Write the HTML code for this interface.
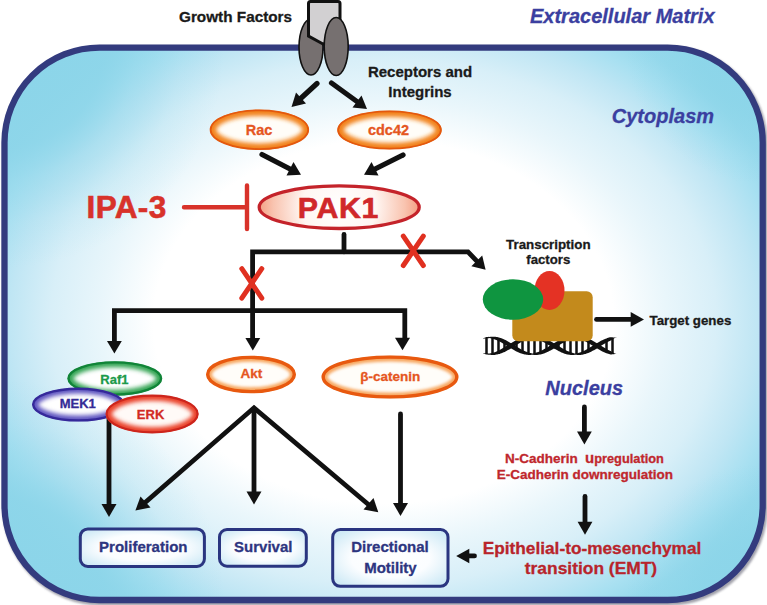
<!DOCTYPE html>
<html>
<head>
<meta charset="utf-8">
<title>PAK1 signalling</title>
<style>
html,body{margin:0;padding:0;background:#fff;}
body{width:767px;height:605px;overflow:hidden;}
svg{display:block;}
text{font-family:"Liberation Sans",sans-serif;font-weight:bold;}
.k{fill:#1a1a1a;stroke:#1a1a1a;stroke-width:0.3px;}
.nv{fill:#2d3580;stroke:#2d3580;stroke-width:0.3px;}
.it{fill:#3b3fa0;stroke:#3b3fa0;stroke-width:0.3px;font-style:italic;font-size:20px;}
.or{fill:#e5561f;stroke:#e5561f;stroke-width:0.3px;font-size:14.5px;}
.rd{fill:#c0272d;stroke:#c0272d;stroke-width:0.3px;}
.ln{stroke:#111;stroke-width:4.8;fill:none;stroke-linejoin:miter;}
.ar{fill:#111;}
.rx{stroke:#d8322a;stroke-width:4.4;fill:none;stroke-linecap:round;}
.x{stroke:#e03020;stroke-width:5;}
.bx{stroke:#2a3580;stroke-width:3;fill:url(#gbox);}
</style>
</head>
<body>
<svg width="767" height="605" viewBox="0 0 767 605">
<defs>
<radialGradient id="gcell" gradientUnits="userSpaceOnUse" cx="383.6" cy="322.0" r="530" gradientTransform="translate(383.6 322.0) scale(1 0.79) translate(-383.6 -322.0)">
<stop offset="0" stop-color="#ffffff"/>
<stop offset="0.434" stop-color="#ffffff"/>
<stop offset="0.534" stop-color="#e9f6fb"/>
<stop offset="0.628" stop-color="#d8eff8"/>
<stop offset="0.704" stop-color="#c0e6f4"/>
<stop offset="0.764" stop-color="#a8e0f1"/>
<stop offset="0.815" stop-color="#96d9ec"/>
<stop offset="0.906" stop-color="#8bd5e9"/>
<stop offset="1.000" stop-color="#88d3e8"/>
</radialGradient>
<radialGradient id="gor" cx="0.5" cy="0.5" r="0.5">
<stop offset="0" stop-color="#ffffff"/>
<stop offset="0.48" stop-color="#fffdf8"/>
<stop offset="0.68" stop-color="#fde3c0"/>
<stop offset="0.86" stop-color="#f5993a"/>
<stop offset="1" stop-color="#ee7417"/>
</radialGradient>
<radialGradient id="gor2" cx="0.5" cy="0.5" r="0.5">
<stop offset="0" stop-color="#ffffff"/>
<stop offset="0.6" stop-color="#fffaf4"/>
<stop offset="0.85" stop-color="#fddcb8"/>
<stop offset="1" stop-color="#f8b47a"/>
</radialGradient>
<radialGradient id="gpak" gradientUnits="userSpaceOnUse" cx="339" cy="207" r="82">
<stop offset="0" stop-color="#ffffff"/>
<stop offset="0.45" stop-color="#fff6f2"/>
<stop offset="0.8" stop-color="#f9c4b0"/>
<stop offset="1" stop-color="#f39a7e"/>
</radialGradient>
<radialGradient id="ggr" cx="0.5" cy="0.5" r="0.5">
<stop offset="0" stop-color="#ffffff"/>
<stop offset="0.5" stop-color="#fbfefb"/>
<stop offset="0.78" stop-color="#cfe9d2"/>
<stop offset="1" stop-color="#7cc68c"/>
</radialGradient>
<radialGradient id="gbl" cx="0.5" cy="0.5" r="0.5">
<stop offset="0" stop-color="#ffffff"/>
<stop offset="0.5" stop-color="#fbfbfe"/>
<stop offset="0.78" stop-color="#d2cdee"/>
<stop offset="1" stop-color="#968cd2"/>
</radialGradient>
<radialGradient id="grd" cx="0.5" cy="0.5" r="0.5">
<stop offset="0" stop-color="#ffffff"/>
<stop offset="0.5" stop-color="#fffaf8"/>
<stop offset="0.78" stop-color="#fbcfc4"/>
<stop offset="1" stop-color="#f08c78"/>
</radialGradient>
<radialGradient id="gbox" cx="0.5" cy="0.5" r="0.62">
<stop offset="0" stop-color="#ffffff"/>
<stop offset="0.55" stop-color="#fbfdff"/>
<stop offset="1" stop-color="#cfeaf6"/>
</radialGradient>
<filter id="sh" x="-5%" y="-5%" width="110%" height="110%">
<feGaussianBlur stdDeviation="1.2"/>
</filter>
<filter id="b2" x="-20%" y="-40%" width="140%" height="180%"><feGaussianBlur stdDeviation="1.6"/></filter>
<filter id="b3" x="-20%" y="-40%" width="140%" height="180%"><feGaussianBlur stdDeviation="2.2"/></filter>
<clipPath id="crac"><ellipse cx="259.4" cy="129.7" rx="49.400000000000006" ry="20.0"/></clipPath>
<clipPath id="ccdc"><ellipse cx="389.5" cy="130" rx="52.0" ry="19.3"/></clipPath>
<clipPath id="craf"><ellipse cx="114.8" cy="378.5" rx="47.2" ry="17.0"/></clipPath>
<clipPath id="cmek"><ellipse cx="78.4" cy="404.6" rx="46.1" ry="16.7"/></clipPath>
<clipPath id="cerk"><ellipse cx="152.1" cy="414" rx="46.300000000000004" ry="19.099999999999998"/></clipPath>
<clipPath id="cakt"><ellipse cx="251" cy="374.500" rx="44.700" ry="18.500"/></clipPath>
<clipPath id="cbcat"><ellipse cx="390" cy="377" rx="68.2" ry="21.3"/></clipPath>
<radialGradient id="gcorner" gradientUnits="userSpaceOnUse" cx="0" cy="0" r="220">
<stop offset="0" stop-color="#8cd5e9" stop-opacity="1"/>
<stop offset="0.45" stop-color="#8cd5e9" stop-opacity="0.85"/>
<stop offset="0.6" stop-color="#8cd5e9" stop-opacity="0.45"/>
<stop offset="0.8" stop-color="#8cd5e9" stop-opacity="0.15"/>
<stop offset="1" stop-color="#8cd5e9" stop-opacity="0"/>
</radialGradient>
<clipPath id="ccell"><rect x="4.500" y="47.600" width="758.200" height="552.400" rx="95" ry="95"/></clipPath>
</defs>

<!-- cell shadow + body -->
<rect x="4.500" y="47.600" width="758.200" height="552.400" rx="95" ry="95" fill="none" stroke="#8a8a96" stroke-width="7" transform="translate(1.5 2)" filter="url(#sh)" opacity="0.8"/>
<rect x="4.500" y="47.600" width="758.200" height="552.400" rx="95" ry="95" fill="url(#gcell)"/>
<g clip-path="url(#ccell)"><circle cx="0" cy="0" r="220" fill="url(#gcorner)" transform="translate(4.500 47.600)"/><circle cx="0" cy="0" r="220" fill="url(#gcorner)" transform="translate(762.700 47.600) scale(0.62)"/><circle cx="0" cy="0" r="220" fill="url(#gcorner)" transform="translate(4.500 600)"/><circle cx="0" cy="0" r="220" fill="url(#gcorner)" transform="translate(762.700 600) scale(0.62)"/></g>
<rect x="4.500" y="47.600" width="758.200" height="552.400" rx="95" ry="95" fill="none" stroke="#333b7e" stroke-width="6.300"/>

<!-- receptor -->
<ellipse cx="311" cy="47" rx="12" ry="28" fill="#767070" stroke="#111" stroke-width="1.6"/>
<path d="M310.500 1.500 H338 Q340 1.500 340 3.500 V40 L323 44 L308.500 36 V3.500 Q308.500 1.500 310.500 1.500 Z" fill="#d2d0d2" stroke="#111" stroke-width="3" stroke-linejoin="miter"/>
<ellipse cx="336.2" cy="46.5" rx="12" ry="29" fill="#767070" stroke="#111" stroke-width="1.6"/>

<!-- labels -->
<text class="k" x="179" y="22.400" font-size="15.300">Growth Factors</text>
<text class="k" x="420" y="77" font-size="15" text-anchor="middle">Receptors and</text>
<text class="k" x="420" y="97" font-size="15" text-anchor="middle">Integrins</text>
<text class="it" x="530" y="22.5">Extracellular Matrix</text>
<text class="it" x="611.800" y="123">Cytoplasm</text>
<text class="it" x="545.300" y="395">Nucleus</text>

<!-- arrows from receptor -->
<g id="arrows">
<line class="ln" x1="317" y1="83.5" x2="299" y2="100" style="stroke-linecap:round;stroke-width:5.2px"/>
<polygon class="ar" points="291.5,107 296,92.5 306,103.5"/>
<line class="ln" x1="331.5" y1="83" x2="359" y2="103" style="stroke-linecap:round;stroke-width:5.2px"/>
<polygon class="ar" points="367,109 352.500,107.5 361.5,95.5"/>
<line class="ln" x1="262" y1="154.500" x2="292" y2="170" style="stroke-linecap:round;stroke-width:5.2px"/>
<polygon class="ar" points="301,174.700 286.500,175.500 293.500,162"/>
<line class="ln" x1="403" y1="155" x2="373" y2="170" style="stroke-linecap:round;stroke-width:5.2px"/>
<polygon class="ar" points="364,174.700 371.500,162 378.500,175.500"/>
</g>

<!-- Rac / cdc42 -->
<g clip-path="url(#crac)"><ellipse cx="259.4" cy="129.7" rx="49.7" ry="20.3" fill="#fffdf8"/><ellipse cx="259.4" cy="129.7" rx="49.7" ry="20.3" fill="none" stroke="#f2831f" stroke-width="13" filter="url(#b3)"/></g><ellipse cx="259.4" cy="129.7" rx="48.80" ry="19.40" fill="none" stroke="#e3580e" stroke-width="1.8"/>
<text class="or" x="259" y="134.700" text-anchor="middle">Rac</text>
<g clip-path="url(#ccdc)"><ellipse cx="389.5" cy="130" rx="52.3" ry="19.6" fill="#fffdf8"/><ellipse cx="389.5" cy="130" rx="52.3" ry="19.6" fill="none" stroke="#f2831f" stroke-width="13" filter="url(#b3)"/></g><ellipse cx="389.5" cy="130" rx="51.40" ry="18.70" fill="none" stroke="#e3580e" stroke-width="1.8"/>
<text class="or" x="388.500" y="135" text-anchor="middle">cdc42</text>

<!-- PAK1 -->
<ellipse cx="339.200" cy="207.200" rx="80" ry="21.300" fill="url(#gpak)" stroke="#c4232a" stroke-width="3.300"/>
<text x="297.800" y="217.700" font-size="30.300" letter-spacing="0.7" fill="#d0282a" stroke="#d0282a" stroke-width="0.6">PAK1</text>

<!-- IPA-3 inhibition -->
<text x="86.500" y="217.800" font-size="31.500" letter-spacing="0.4" fill="#d8322a" stroke="#d8322a" stroke-width="0.6">IPA-3</text>
<path class="rx" d="M184 207.300 H247 M247 185.500 V229"/>

<!-- main tree -->
<path class="ln" d="M344 234.500 V251.900" stroke-linecap="round"/>
<path class="ln" d="M478.500 262.800 L468 251.900 H252.600 V341"/>
<polygon class="ar" points="485.600,269.700 471.400,266.200 482.200,255.400"/>
<path class="ln" d="M114.400 341.500 V310.600 H404.800 V341"/>
<polygon class="ar" points="114.400,353.600 107,341 121.800,341"/>
<polygon class="ar" points="252.800,350.600 245.400,338 260.200,338"/>
<polygon class="ar" points="402.500,350.300 395,337.800 410,337.800"/>
<path class="rx x" d="M241.800 268.700 L261.800 298.100 M261.800 268.700 L241.800 298.100"/>
<path class="rx x" d="M403.300 236.100 L423.300 265.500 M423.300 236.100 L403.300 265.500"/>

<!-- Raf1 / MEK1 / ERK -->
<path class="ln" d="M109 418 V504"/>
<polygon class="ar" points="109,517 101.500,504 116.500,504"/>
<g clip-path="url(#craf)"><ellipse cx="114.8" cy="378.5" rx="47.5" ry="17.3" fill="#ffffff"/><ellipse cx="114.8" cy="378.5" rx="47.5" ry="17.3" fill="none" stroke="#35a555" stroke-width="12" filter="url(#b3)"/></g><ellipse cx="114.8" cy="378.5" rx="46.30" ry="16.10" fill="none" stroke="#108438" stroke-width="2.4"/>
<text x="114.400" y="384" text-anchor="middle" font-size="13" fill="#1c9a4a" stroke="#1c9a4a" stroke-width="0.3">Raf1</text>
<g clip-path="url(#cmek)"><ellipse cx="78.4" cy="404.6" rx="46.4" ry="17.0" fill="#ffffff"/><ellipse cx="78.4" cy="404.6" rx="46.4" ry="17.0" fill="none" stroke="#5f54c0" stroke-width="12" filter="url(#b3)"/></g><ellipse cx="78.4" cy="404.6" rx="45.20" ry="15.80" fill="none" stroke="#35299a" stroke-width="2.4"/>
<text x="77.800" y="408.300" text-anchor="middle" font-size="13" fill="#352b96" stroke="#352b96" stroke-width="0.3">MEK1</text>
<g clip-path="url(#cerk)"><ellipse cx="152.1" cy="414" rx="46.6" ry="19.4" fill="#fffaf7"/><ellipse cx="152.1" cy="414" rx="46.6" ry="19.4" fill="none" stroke="#ea432c" stroke-width="12.500" filter="url(#b3)"/></g><ellipse cx="152.1" cy="414" rx="45.50" ry="18.30" fill="none" stroke="#cc251c" stroke-width="2.2"/>
<text x="150.600" y="419.200" text-anchor="middle" font-size="13" fill="#d22a24" stroke="#d22a24" stroke-width="0.3">ERK</text>

<!-- Akt / b-catenin -->
<g clip-path="url(#cakt)"><ellipse cx="251" cy="374.500" rx="45" ry="18.800" fill="#fffdf9"/><ellipse cx="251" cy="374.500" rx="45" ry="18.800" fill="none" stroke="#f7a862" stroke-width="12" filter="url(#b2)"/></g><ellipse cx="251" cy="374.500" rx="43.300" ry="17.100" fill="none" stroke="#e8590f" stroke-width="3.400"/>
<text class="or" x="251.500" y="378.300" text-anchor="middle" style="font-size:13.5px">Akt</text>
<g clip-path="url(#cbcat)"><ellipse cx="390" cy="377" rx="68.500" ry="21.600" fill="#fffdf9"/><ellipse cx="390" cy="377" rx="68.500" ry="21.600" fill="none" stroke="#f7a862" stroke-width="12" filter="url(#b2)"/></g><ellipse cx="390" cy="377" rx="66.800" ry="19.900" fill="none" stroke="#e8590f" stroke-width="3.400"/>
<text class="or" x="390.300" y="380.800" text-anchor="middle" style="font-size:13.5px">β-catenin</text>

<!-- Akt fan -->
<path class="ln" d="M144 503.500 L254 407.800 L369 505" stroke-linejoin="miter"/>
<polygon class="ar" points="135.400,510.500 140.500,496.500 150.500,507.500"/>
<polygon class="ar" points="378.300,512.300 363.500,509.500 373.500,498"/>
<path class="ln" d="M254 410 V492"/>
<polygon class="ar" points="254,504.500 246.500,491.500 261.500,491.500"/>
<path class="ln" d="M400.500 414 V504" stroke-linecap="round"/>
<polygon class="ar" points="400.500,516 393,503 408,503"/>

<!-- transcription complex -->
<text class="k" x="548.300" y="248.600" font-size="13.350" text-anchor="middle">Transcription</text>
<text class="k" x="548.300" y="264" font-size="13.200" text-anchor="middle">factors</text>
<g id="dna">
<path d="M486.5 337.7 V353.9 M492.5 337.7 V353.9 M498.5 339.2 V352.4 M504.5 342.0 V349.6 M516.5 342.6 V349.0 M522.5 339.6 V352.0 M528.5 337.9 V353.7 M534.5 337.6 V354.0 M540.5 338.9 V352.7 M546.5 341.5 V350.1 M558.5 343.1 V348.5 M564.5 340.0 V351.6 M570.5 338.0 V353.6 M576.5 337.5 V354.1 M582.5 338.6 V353.0 M588.5 341.0 V350.6 M606.5 340.5 V351.1 M612.5 338.3 V353.3" stroke="#111" stroke-width="2.500" fill="none"/>
<path d="M483.0 353.0 L483.8 353.2 L484.7 353.2 L485.5 353.3 L486.3 353.3 L487.2 353.3 L488.0 353.4 L488.8 353.4 L489.7 353.5 L490.5 353.3 L491.3 353.2 L492.2 353.0 L493.0 352.7 L493.8 352.5 L494.7 352.2 L495.5 351.9 L496.4 351.5 L497.2 351.2 L498.0 350.8 L498.9 350.4 L499.7 350.0 L500.5 349.5 L501.4 349.1 L502.2 348.6 L503.0 348.1 L503.9 347.6 L504.7 347.1 L505.5 346.6 L506.4 346.1 L507.2 345.6 L508.0 345.0 L508.9 344.5 L509.7 344.0 L510.5 343.5 L511.4 343.0 L512.2 342.5 L513.0 342.0 L513.9 341.5 L514.7 341.1 L515.5 340.6 L516.4 340.2 L517.2 339.8 L518.0 339.4 L518.9 339.0 L519.7 338.7 L520.5 338.3 L521.4 338.0 L522.2 337.8 L523.0 337.5 L523.9 337.3 L524.7 337.1 L525.6 337.0 L526.4 336.9 L527.2 336.8 L528.1 336.7 L528.9 336.7 L529.7 336.7 L530.6 336.7 L531.4 336.8 L532.2 336.9 L533.1 336.8 L533.9 336.7 L534.7 336.7 L535.6 336.7 L536.4 336.7 L537.2 336.7 L538.1 336.8 L538.9 336.9 L539.7 337.0 L540.6 337.2 L541.4 337.4 L542.2 337.6 L543.1 337.9 L543.9 338.1 L544.7 338.4 L545.6 338.8 L546.4 339.1 L547.2 339.5 L548.1 339.9 L548.9 340.3 L549.8 340.8 L550.6 341.2 L551.4 341.7 L552.3 342.2 L553.1 342.7 L553.9 343.2 L554.8 343.7 L555.6 344.2 L556.4 344.7 L557.3 345.2 L558.1 345.7 L558.9 346.3 L559.8 346.8 L560.6 347.3 L561.4 347.8 L562.3 348.3 L563.1 348.7 L563.9 349.2 L564.8 349.7 L565.6 350.1 L566.4 350.5 L567.3 350.9 L568.1 351.3 L568.9 351.6 L569.8 352.0 L570.6 352.3 L571.4 352.6 L572.3 352.8 L573.1 353.0 L573.9 353.2 L574.8 353.4 L575.6 353.5 L576.5 353.3 L577.3 353.2 L578.1 353.0 L579.0 352.7 L579.8 352.5 L580.6 352.2 L581.5 351.9 L582.3 351.5 L583.1 351.2 L584.0 350.8 L584.8 350.4 L585.6 350.0 L586.5 349.5 L587.3 349.1 L588.1 348.6 L589.0 348.1 L589.8 347.6 L590.6 347.1 L591.5 346.6 L592.3 346.1 L593.1 345.6 L594.0 345.1 L594.8 344.6 L595.6 344.0 L596.5 343.5 L597.3 343.0 L598.1 342.5 L599.0 342.0 L599.8 341.5 L600.6 341.1 L601.5 340.6 L602.3 340.2 L603.1 339.8 L604.0 339.4 L604.8 339.0 L605.7 338.7 L606.5 338.4 L607.3 338.1 L608.2 337.8 L609.0 337.5 L609.8 337.3 L610.7 337.2 L611.5 337.2 L612.3 337.3 L613.2 337.4 L614.0 337.4 L614.8 337.5 L615.7 337.5 L616.5 337.5 L616.5 337.7 L615.7 337.8 L614.8 338.1 L614.0 338.5 L613.2 338.9 L612.3 339.4 L611.5 339.9 L610.7 340.5 L609.8 340.9 L609.0 341.3 L608.2 341.7 L607.3 342.2 L606.5 342.6 L605.7 343.1 L604.8 343.6 L604.0 344.1 L603.1 344.6 L602.3 345.1 L601.5 345.6 L600.6 346.1 L599.8 346.7 L599.0 347.2 L598.1 347.7 L597.3 348.2 L596.5 348.7 L595.6 349.2 L594.8 349.7 L594.0 350.2 L593.1 350.6 L592.3 351.1 L591.5 351.5 L590.6 351.9 L589.8 352.3 L589.0 352.7 L588.1 353.0 L587.3 353.3 L586.5 353.6 L585.6 353.9 L584.8 354.1 L584.0 354.3 L583.1 354.5 L582.3 354.7 L581.5 354.8 L580.6 354.9 L579.8 354.9 L579.0 354.9 L578.1 354.9 L577.3 354.9 L576.5 354.8 L575.6 354.7 L574.8 354.8 L573.9 354.9 L573.1 354.9 L572.3 354.9 L571.4 354.9 L570.6 354.9 L569.8 354.8 L568.9 354.7 L568.1 354.5 L567.3 354.4 L566.4 354.2 L565.6 353.9 L564.8 353.7 L563.9 353.4 L563.1 353.1 L562.3 352.8 L561.4 352.4 L560.6 352.0 L559.8 351.6 L558.9 351.2 L558.1 350.8 L557.3 350.3 L556.4 349.8 L555.6 349.3 L554.8 348.9 L553.9 348.4 L553.1 347.8 L552.3 347.3 L551.4 346.8 L550.6 346.3 L549.8 345.8 L548.9 345.3 L548.1 344.7 L547.2 344.2 L546.4 343.7 L545.6 343.2 L544.7 342.8 L543.9 342.3 L543.1 341.9 L542.2 341.4 L541.4 341.0 L540.6 340.6 L539.7 340.2 L538.9 339.9 L538.1 339.6 L537.2 339.3 L536.4 339.0 L535.6 338.8 L534.7 338.5 L533.9 338.3 L533.1 338.2 L532.2 338.1 L531.4 338.3 L530.6 338.5 L529.7 338.7 L528.9 338.9 L528.1 339.2 L527.2 339.5 L526.4 339.8 L525.6 340.1 L524.7 340.5 L523.9 340.9 L523.0 341.3 L522.2 341.7 L521.4 342.1 L520.5 342.6 L519.7 343.1 L518.9 343.6 L518.0 344.1 L517.2 344.6 L516.4 345.1 L515.5 345.6 L514.7 346.1 L513.9 346.6 L513.0 347.1 L512.2 347.7 L511.4 348.2 L510.5 348.7 L509.7 349.2 L508.9 349.7 L508.0 350.1 L507.2 350.6 L506.4 351.0 L505.5 351.5 L504.7 351.9 L503.9 352.3 L503.0 352.6 L502.2 353.0 L501.4 353.3 L500.5 353.6 L499.7 353.9 L498.9 354.1 L498.0 354.3 L497.2 354.5 L496.4 354.6 L495.5 354.8 L494.7 354.9 L493.8 354.9 L493.0 354.9 L492.2 354.9 L491.3 354.9 L490.5 354.8 L489.7 354.7 L488.8 354.8 L488.0 354.7 L487.2 354.6 L486.3 354.5 L485.5 354.2 L484.7 353.9 L483.8 353.6 L483.0 353.4Z" fill="#111"/>
<path d="M483.0 338.2 L483.8 338.0 L484.7 337.7 L485.5 337.4 L486.3 337.1 L487.2 337.0 L488.0 336.9 L488.8 336.8 L489.7 336.9 L490.5 336.8 L491.3 336.7 L492.2 336.7 L493.0 336.7 L493.8 336.7 L494.7 336.7 L495.5 336.8 L496.4 337.0 L497.2 337.1 L498.0 337.3 L498.9 337.5 L499.7 337.7 L500.5 338.0 L501.4 338.3 L502.2 338.6 L503.0 339.0 L503.9 339.3 L504.7 339.7 L505.5 340.1 L506.4 340.6 L507.2 341.0 L508.0 341.5 L508.9 341.9 L509.7 342.4 L510.5 342.9 L511.4 343.4 L512.2 343.9 L513.0 344.5 L513.9 345.0 L514.7 345.5 L515.5 346.0 L516.4 346.5 L517.2 347.0 L518.0 347.5 L518.9 348.0 L519.7 348.5 L520.5 349.0 L521.4 349.5 L522.2 349.9 L523.0 350.3 L523.9 350.7 L524.7 351.1 L525.6 351.5 L526.4 351.8 L527.2 352.1 L528.1 352.4 L528.9 352.7 L529.7 352.9 L530.6 353.1 L531.4 353.3 L532.2 353.5 L533.1 353.4 L533.9 353.3 L534.7 353.1 L535.6 352.8 L536.4 352.6 L537.2 352.3 L538.1 352.0 L538.9 351.7 L539.7 351.4 L540.6 351.0 L541.4 350.6 L542.2 350.2 L543.1 349.7 L543.9 349.3 L544.7 348.8 L545.6 348.4 L546.4 347.9 L547.2 347.4 L548.1 346.9 L548.9 346.3 L549.8 345.8 L550.6 345.3 L551.4 344.8 L552.3 344.3 L553.1 343.8 L553.9 343.2 L554.8 342.7 L555.6 342.3 L556.4 341.8 L557.3 341.3 L558.1 340.8 L558.9 340.4 L559.8 340.0 L560.6 339.6 L561.4 339.2 L562.3 338.8 L563.1 338.5 L563.9 338.2 L564.8 337.9 L565.6 337.7 L566.4 337.4 L567.3 337.2 L568.1 337.1 L568.9 336.9 L569.8 336.8 L570.6 336.7 L571.4 336.7 L572.3 336.7 L573.1 336.7 L573.9 336.7 L574.8 336.8 L575.6 336.9 L576.5 336.8 L577.3 336.7 L578.1 336.7 L579.0 336.7 L579.8 336.7 L580.6 336.7 L581.5 336.8 L582.3 336.9 L583.1 337.1 L584.0 337.3 L584.8 337.5 L585.6 337.7 L586.5 338.0 L587.3 338.3 L588.1 338.6 L589.0 338.9 L589.8 339.3 L590.6 339.7 L591.5 340.1 L592.3 340.5 L593.1 341.0 L594.0 341.4 L594.8 341.9 L595.6 342.4 L596.5 342.9 L597.3 343.4 L598.1 343.9 L599.0 344.4 L599.8 344.9 L600.6 345.5 L601.5 346.0 L602.3 346.5 L603.1 347.0 L604.0 347.5 L604.8 348.0 L605.7 348.5 L606.5 349.0 L607.3 349.4 L608.2 349.9 L609.0 350.3 L609.8 350.7 L610.7 351.1 L611.5 351.7 L612.3 352.2 L613.2 352.7 L614.0 353.1 L614.8 353.5 L615.7 353.8 L616.5 353.9 L616.5 354.1 L615.7 354.1 L614.8 354.1 L614.0 354.2 L613.2 354.2 L612.3 354.3 L611.5 354.4 L610.7 354.4 L609.8 354.3 L609.0 354.1 L608.2 353.8 L607.3 353.5 L606.5 353.2 L605.7 352.9 L604.8 352.6 L604.0 352.2 L603.1 351.8 L602.3 351.4 L601.5 351.0 L600.6 350.5 L599.8 350.1 L599.0 349.6 L598.1 349.1 L597.3 348.6 L596.5 348.1 L595.6 347.6 L594.8 347.0 L594.0 346.5 L593.1 346.0 L592.3 345.5 L591.5 345.0 L590.6 344.5 L589.8 344.0 L589.0 343.5 L588.1 343.0 L587.3 342.5 L586.5 342.1 L585.6 341.6 L584.8 341.2 L584.0 340.8 L583.1 340.4 L582.3 340.1 L581.5 339.7 L580.6 339.4 L579.8 339.1 L579.0 338.9 L578.1 338.6 L577.3 338.4 L576.5 338.3 L575.6 338.1 L574.8 338.2 L573.9 338.4 L573.1 338.6 L572.3 338.8 L571.4 339.0 L570.6 339.3 L569.8 339.6 L568.9 340.0 L568.1 340.3 L567.3 340.7 L566.4 341.1 L565.6 341.5 L564.8 341.9 L563.9 342.4 L563.1 342.9 L562.3 343.3 L561.4 343.8 L560.6 344.3 L559.8 344.8 L558.9 345.3 L558.1 345.9 L557.3 346.4 L556.4 346.9 L555.6 347.4 L554.8 347.9 L553.9 348.4 L553.1 348.9 L552.3 349.4 L551.4 349.9 L550.6 350.4 L549.8 350.8 L548.9 351.3 L548.1 351.7 L547.2 352.1 L546.4 352.5 L545.6 352.8 L544.7 353.2 L543.9 353.5 L543.1 353.7 L542.2 354.0 L541.4 354.2 L540.6 354.4 L539.7 354.6 L538.9 354.7 L538.1 354.8 L537.2 354.9 L536.4 354.9 L535.6 354.9 L534.7 354.9 L533.9 354.9 L533.1 354.8 L532.2 354.7 L531.4 354.8 L530.6 354.9 L529.7 354.9 L528.9 354.9 L528.1 354.9 L527.2 354.8 L526.4 354.7 L525.6 354.6 L524.7 354.5 L523.9 354.3 L523.0 354.1 L522.2 353.8 L521.4 353.6 L520.5 353.3 L519.7 352.9 L518.9 352.6 L518.0 352.2 L517.2 351.8 L516.4 351.4 L515.5 351.0 L514.7 350.5 L513.9 350.1 L513.0 349.6 L512.2 349.1 L511.4 348.6 L510.5 348.1 L509.7 347.6 L508.9 347.1 L508.0 346.6 L507.2 346.0 L506.4 345.5 L505.5 345.0 L504.7 344.5 L503.9 344.0 L503.0 343.5 L502.2 343.0 L501.4 342.5 L500.5 342.1 L499.7 341.6 L498.9 341.2 L498.0 340.8 L497.2 340.4 L496.4 340.1 L495.5 339.7 L494.7 339.4 L493.8 339.1 L493.0 338.9 L492.2 338.6 L491.3 338.4 L490.5 338.3 L489.7 338.1 L488.8 338.2 L488.0 338.2 L487.2 338.3 L486.3 338.3 L485.5 338.3 L484.7 338.4 L483.8 338.4 L483.0 338.6Z" fill="#111"/>
</g>
<rect x="512.300" y="291.300" width="80.400" height="50" rx="6" fill="#c38a1c"/>
<ellipse cx="549.500" cy="290.500" rx="15" ry="19.500" fill="#e43224"/>
<ellipse cx="513" cy="299.500" rx="30.200" ry="20.200" fill="#0f9540"/>
<path class="ln" d="M596.500 319.400 H632" stroke-linecap="round"/>
<polygon class="ar" points="644,319.400 630.700,312 630.700,326.800"/>
<text class="k" x="649.500" y="324.500" font-size="13.300">Target genes</text>

<!-- nucleus downstream -->
<path class="ln" d="M584.400 407 V432" stroke-linecap="round"/>
<polygon class="ar" points="584.400,444.500 577,431.500 591.800,431.500"/>
<text class="rd" x="505" y="463.300" font-size="13.500">N-Cadherin <tspan x="585" font-size="15">u</tspan><tspan font-size="12.800">pregulation</tspan></text>
<text class="rd" x="584.800" y="479" font-size="13.500" text-anchor="middle">E-Cadherin downregulation</text>
<path class="ln" d="M585 496.500 V522" stroke-linecap="round"/>
<polygon class="ar" points="585,534.800 577.600,521.800 592.400,521.800"/>
<text class="rd" x="592" y="553.800" font-size="17.250" text-anchor="middle" style="fill:#b8242b;stroke:#b8242b">Epithelial-to-mesenchymal</text>
<text class="rd" x="591" y="573.700" font-size="17.400" text-anchor="middle" style="fill:#b8242b;stroke:#b8242b">transition (EMT)</text>
<path class="ln" d="M474.500 555.900 H466" stroke-linecap="round"/>
<polygon class="ar" points="456.200,556 469.300,548.700 469.300,563.300"/>

<!-- boxes -->
<rect class="bx" x="80.300" y="528.900" width="124.100" height="37.500" rx="7.500"/>
<text class="nv" x="143.300" y="551.800" font-size="15" text-anchor="middle">Proliferation</text>
<rect class="bx" x="219.500" y="529.500" width="86.800" height="36.700" rx="7.500"/>
<text class="nv" x="263.300" y="551.800" font-size="15" text-anchor="middle">Survival</text>
<rect class="bx" x="332.700" y="529.500" width="115.300" height="56.800" rx="7.500"/>
<text class="nv" x="390" y="551.800" font-size="15" text-anchor="middle">Directional</text>
<text class="nv" x="390.400" y="572.600" font-size="15" text-anchor="middle">Motility</text>
</svg>
</body>
</html>
